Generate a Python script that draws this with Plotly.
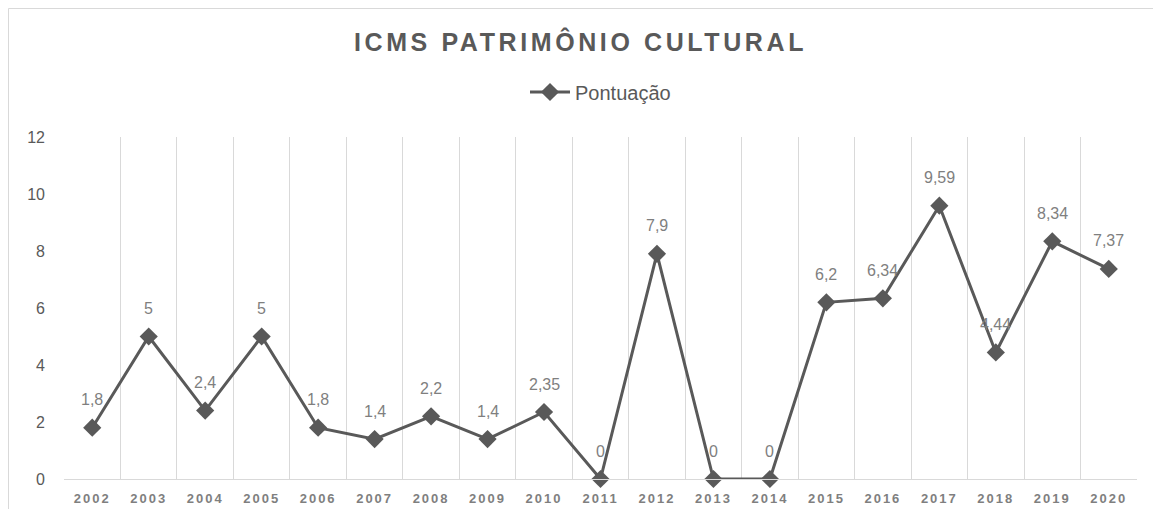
import plotly.graph_objects as go

years = [str(y) for y in range(2002, 2021)]
pontuacao = [1.8, 5, 2.4, 5, 1.8, 1.4, 2.2, 1.4, 2.35, 0, 7.9, 0, 0, 6.2, 6.34, 9.59, 4.44, 8.34, 7.37]
y_ticks = [0, 2, 4, 6, 8, 10, 12]

labels = [("%g" % v).replace(".", ",") for v in pontuacao]

# page body has an 8px margin; reference pixel p -> figure pixel p - 8
OFF = 8
W, H = 1145, 501
L, T = 64 - OFF, 137 - OFF
R = W - (1137 - OFF)
B = H - (479 - OFF)
pw, ph = W - L - R, H - T - B

def px_x(p):
    return (p - OFF - L) / pw

def px_y(p):
    return (H - B - (p - OFF)) / ph

fig = go.Figure()
fig.add_trace(go.Scatter(
    x=list(range(len(years))), y=pontuacao, mode="lines+markers", name="Pontuação",
    line=dict(color="#595959", width=3),
    marker=dict(symbol="diamond", size=14, color="#595959"),
    cliponaxis=False,
))

annotations = [
    dict(x=i, y=v, xref="x", yref="y", text=t, showarrow=False,
         yshift=28, yanchor="middle", xanchor="center",
         font=dict(family="Liberation Sans, Arial", size=16, color="#7f7f7f"))
    for i, (v, t) in enumerate(zip(pontuacao, labels))
]

fig.update_layout(
    width=W, height=H,
    margin=dict(l=L, r=R, t=T, b=B, autoexpand=False),
    paper_bgcolor="white", plot_bgcolor="white",
    title=dict(
        text='<span style="letter-spacing:3.6px"><b>ICMS PATRIMÔNIO CULTURAL</b></span>',
        x=0.5, xanchor="center", y=1 - (42 - OFF) / H, yanchor="middle",
        font=dict(family="Liberation Sans, Arial", size=25, color="#595959"),
        automargin=False,
    ),
    showlegend=True,
    legend=dict(
        orientation="h", x=0.5, xanchor="center", y=px_y(92), yanchor="middle",
        font=dict(family="Liberation Sans Narrow, Liberation Sans, Arial", size=20, color="#595959"),
        itemwidth=40,
    ),
    xaxis=dict(
        type="category", tickson="boundaries", showgrid=True, gridcolor="#d9d9d9", gridwidth=1,
        showline=True, linecolor="#d9d9d9", linewidth=1, ticks="", zeroline=False,
        tickfont=dict(family="Liberation Sans, Arial", size=13, color="#7f7f7f"),
        tickvals=list(range(len(years))),
        ticktext=['<span style="letter-spacing:2px"><b>%s</b></span>' % y for y in years],
        ticklabelstandoff=7,
        automargin=False, range=[-0.5, len(years) - 0.5],
    ),
    yaxis=dict(
        range=[0, 12], tickvals=y_ticks, showgrid=False, zeroline=False, showline=False,
        tickfont=dict(family="Liberation Sans, Arial", size=16, color="#595959"),
        ticklabelstandoff=18, automargin=False,
    ),
    annotations=annotations,
    shapes=[
        dict(type="line", xref="paper", yref="paper",
             x0=px_x(8.5), x1=px_x(1161), y0=px_y(8.5), y1=px_y(8.5),
             line=dict(color="#d9d9d9", width=1), layer="below"),
        dict(type="line", xref="paper", yref="paper",
             x0=px_x(8.5), x1=px_x(8.5), y0=px_y(8.5), y1=px_y(517),
             line=dict(color="#d9d9d9", width=1), layer="below"),
    ],
)

fig.write_html("out.html")
